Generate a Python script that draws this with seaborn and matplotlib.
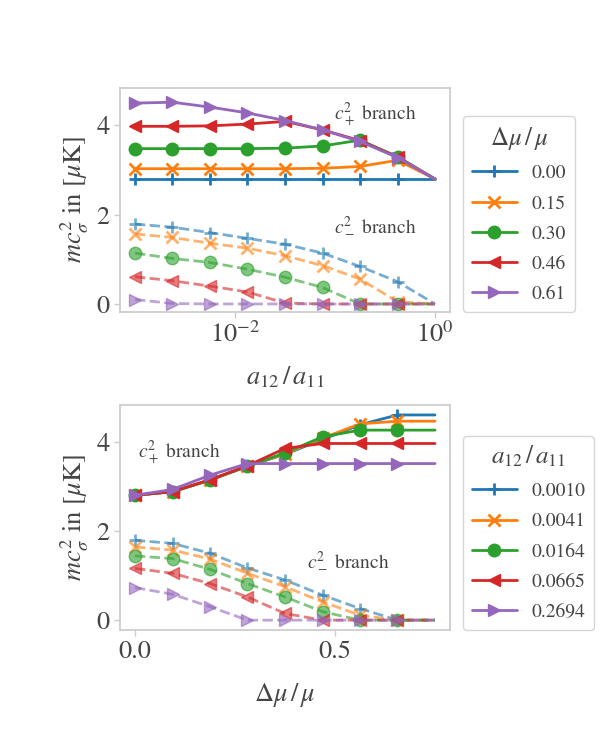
import matplotlib
matplotlib.use("Agg")
import matplotlib.pyplot as plt
import seaborn as sns

# upper panel: sound speeds vs interaction ratio, one curve per imbalance
a_ratio = [0.001, 0.00237, 0.00562, 0.0133, 0.0316, 0.075, 0.178, 0.422, 1.0]
dmu_labels = ['0.00', '0.15', '0.30', '0.46', '0.61']
cplus_vs_a = [
    [2.80, 2.80, 2.80, 2.80, 2.80, 2.80, 2.80, 2.80, 2.80],
    [3.03, 3.03, 3.03, 3.03, 3.03, 3.04, 3.08, 3.22, 2.80],
    [3.48, 3.48, 3.48, 3.48, 3.49, 3.54, 3.67, 3.30, 2.80],
    [3.98, 3.98, 3.99, 4.03, 4.09, 3.90, 3.66, 3.29, 2.80],
    [4.50, 4.52, 4.41, 4.28, 4.11, 3.90, 3.64, 3.28, 2.80],
]
cminus_vs_a = [
    [1.79, 1.72, 1.60, 1.47, 1.34, 1.14, 0.84, 0.50, 0.00],
    [1.57, 1.49, 1.36, 1.25, 1.08, 0.86, 0.56, 0.05, 0.00],
    [1.14, 1.02, 0.93, 0.78, 0.60, 0.37, 0.00, 0.00, 0.00],
    [0.61, 0.52, 0.40, 0.27, 0.02, 0.00, 0.00, 0.00, 0.00],
    [0.10, 0.01, 0.00, 0.00, 0.00, 0.00, 0.00, 0.00, 0.00],
]

# lower panel: sound speeds vs imbalance, one curve per interaction ratio
dmu = [0.0, 0.094, 0.1875, 0.281, 0.375, 0.469, 0.5625, 0.656, 0.75]
a_labels = ['0.0010', '0.0041', '0.0164', '0.0665', '0.2694']
cplus_vs_dmu = [
    [2.80, 2.88, 3.14, 3.45, 3.72, 4.05, 4.38, 4.60, 4.60],
    [2.80, 2.88, 3.14, 3.45, 3.73, 4.08, 4.40, 4.46, 4.46],
    [2.80, 2.88, 3.14, 3.45, 3.75, 4.11, 4.26, 4.26, 4.26],
    [2.80, 2.88, 3.15, 3.46, 3.85, 3.96, 3.96, 3.96, 3.96],
    [2.80, 2.93, 3.25, 3.51, 3.51, 3.51, 3.51, 3.51, 3.51],
]
cminus_vs_dmu = [
    [1.79, 1.72, 1.50, 1.17, 0.90, 0.56, 0.26, 0.00, 0.00],
    [1.64, 1.57, 1.37, 1.05, 0.75, 0.41, 0.11, 0.00, 0.00],
    [1.44, 1.38, 1.14, 0.82, 0.52, 0.19, 0.00, 0.00, 0.00],
    [1.16, 1.05, 0.82, 0.52, 0.15, 0.00, 0.00, 0.00, 0.00],
    [0.73, 0.58, 0.30, 0.00, 0.00, 0.00, 0.00, 0.00, 0.00],
]

markers = ['+', 'x', 'o', '<', '>']
mews = [2, 2, 1, 1, 1]
cols = sns.color_palette('tab10', 5)

sns.set_theme(style='whitegrid')
plt.rcParams['font.family'] = ['STIXGeneral', 'DejaVu Serif']
plt.rcParams['mathtext.fontset'] = 'stix'
plt.rcParams['axes.grid'] = False
plt.rcParams['xtick.bottom'] = True
plt.rcParams['ytick.left'] = True
plt.rcParams['text.color'] = '.27'
plt.rcParams['axes.labelcolor'] = '.27'
plt.rcParams['xtick.color'] = '.27'
plt.rcParams['ytick.color'] = '.27'

fig = plt.figure(figsize=(6, 7.42), dpi=100)
ax1 = fig.add_axes([0.2, 0.5795, 0.55, 0.302])
ax2 = fig.add_axes([0.2, 0.151, 0.55, 0.303])


def draw(ax, x, upper, lower, labels):
    for i in range(5):
        ax.plot(x, upper[i], color=cols[i], marker=markers[i], markevery=list(range(8)),
                ms=9, mew=mews[i], lw=2, ls='-', label=labels[i])
    for i in range(5):
        ax.plot(x, lower[i], color=cols[i], marker=markers[i], markevery=list(range(8)),
                ms=9, mew=mews[i], lw=2, ls='--', alpha=0.6)
    ax.set_yticks([0, 2, 4])
    ax.tick_params(labelsize=19, length=4, width=1, color='.8')
    ax.set_ylabel(r'$mc_\sigma^2$ in $[\mu\mathrm{K}]$', fontsize=19)


def add_legend(ax, title):
    ax.legend(title=title, loc='lower left', bbox_to_anchor=(1.04, 0.0),
              fontsize=14, title_fontsize=18, borderaxespad=0, labelspacing=0.65,
              handlelength=2.3, handletextpad=0.75, borderpad=0.45)


draw(ax1, a_ratio, cplus_vs_a, cminus_vs_a, dmu_labels)
ax1.set_xscale('log')
ax1.set_xticks([1e-2, 1])
ax1.minorticks_off()
ax1.set_xlim(10 ** -3.15, 10 ** 0.15)
ax1.set_ylim(-0.18, 4.84)
ax1.set_xlabel(r'$a_{12}\,/\,a_{11}$', fontsize=19, labelpad=12)
ax1.text(0.648, 0.88, r'$c_+^2$ branch', transform=ax1.transAxes, fontsize=14, va='center')
ax1.text(0.648, 0.385, r'$c_-^2$ branch', transform=ax1.transAxes, fontsize=14, va='center')
add_legend(ax1, r'$\Delta\mu\,/\,\mu$')

draw(ax2, dmu, cplus_vs_dmu, cminus_vs_dmu, a_labels)
ax2.set_xticks([0.0, 0.5])
ax2.set_xlim(-0.0375, 0.7875)
ax2.set_ylim(-0.22, 4.82)
ax2.set_xlabel(r'$\Delta\mu\,/\,\mu$', fontsize=19, labelpad=12)
ax2.text(0.055, 0.79, r'$c_+^2$ branch', transform=ax2.transAxes, fontsize=14, va='center')
ax2.text(0.567, 0.31, r'$c_-^2$ branch', transform=ax2.transAxes, fontsize=14, va='center')
add_legend(ax2, r'$a_{12}\,/\,a_{11}$')

fig.savefig('out.png', dpi=100)
